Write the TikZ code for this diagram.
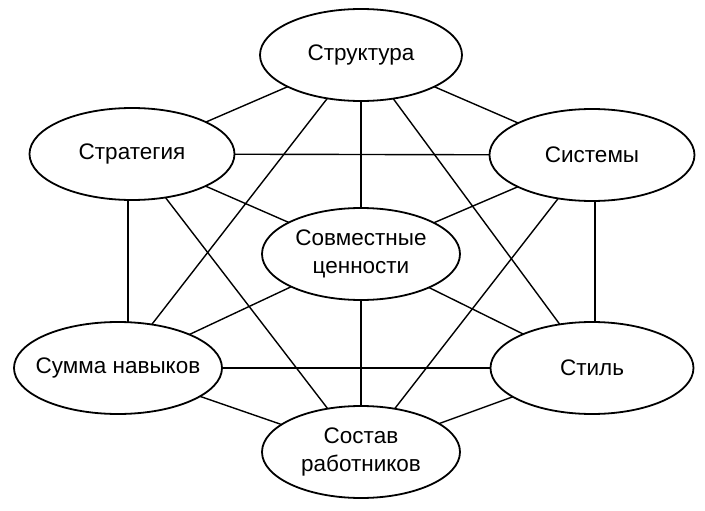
\documentclass[tikz,border=0pt]{standalone}
\usepackage{fontspec}
\setmainfont{Liberation Sans}
\usetikzlibrary{shapes.geometric,backgrounds}
\begin{document}
\begin{tikzpicture}[x=1pt,y=-1pt,
  el/.style={ellipse,draw,line width=1.8pt,fill=white,minimum width=202pt,minimum height=92pt,inner sep=0pt,align=center,font=\fontsize{22.5}{28}\selectfont},
  edge/.style={line width=1.4pt}]
\useasboundingbox (0,0) rectangle (705,511);
\node[el] (str) at (361,55) {Структура};
\node[el,minimum width=205pt] (strat) at (132,154) {Стратегия};
\node[el,minimum width=205pt] (sys) at (592,155) {Системы};
\node[el,minimum width=198pt] (val) at (361,254) {Совместные\\ценности};
\node[el,minimum width=208pt] (skill) at (118,368) {\makebox[130pt]{Сумма навыков}};
\node[el,minimum width=203pt] (style) at (592,368) {Стиль};
\node[el,minimum width=198pt] (staff) at (361,452) {Состав\\работников};
\begin{pgfonlayer}{background}
\foreach \a/\b in {str/strat,str/sys,str/val,str/skill,str/style,
  strat/sys,strat/val,strat/staff,
  sys/val,sys/staff,
  val/skill,val/style,val/staff,
  skill/style,skill/staff,style/staff}
  \draw[edge] (\a.center) -- (\b.center);
\draw[edge] (strat.center) ++(-4,0) coordinate (sl) -- (sl |- skill.center);
\draw[edge] (sys.center) ++(3,0) coordinate (sr) -- (sr |- style.center);
\end{pgfonlayer}
\end{tikzpicture}
\end{document}
